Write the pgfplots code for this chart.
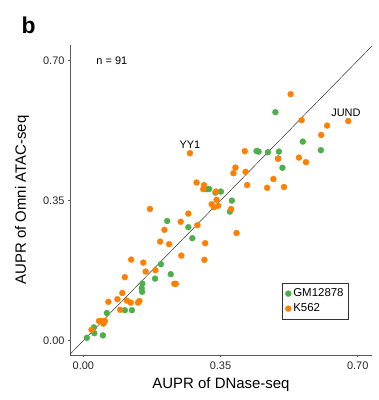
\documentclass[border=0pt]{standalone}
\usepackage{fontspec}
\setmainfont{Liberation Sans}
\usepackage{pgfplots}
\pgfplotsset{compat=1.18}
\definecolor{gmgreen}{RGB}{77,175,74}
\definecolor{korange}{RGB}{255,127,0}
\definecolor{axgray}{RGB}{90,90,90}
\begin{document}
\begin{tikzpicture}[x=1bp,y=1bp]
\path[use as bounding box] (0,0) rectangle (379,400);
\node[anchor=base west,font=\bfseries\fontsize{23}{26}\selectfont] at (18,367) {b};
\begin{axis}[
  at={(70bp,45bp)}, anchor=south west,
  scale only axis, width=302bp, height=310bp,
  xmin=-0.034, xmax=0.7365, ymin=-0.036, ymax=0.739,
  axis lines*=left,
  axis line style={axgray, line width=0.8pt, -},
  xtick={0,0.35,0.7}, ytick={0,0.35,0.7},
  xticklabels={0.00,0.35,0.70}, yticklabels={0.00,0.35,0.70},
  tick align=outside, major tick length=2bp,
  tick style={axgray, line width=0.6pt},
  /pgf/number format/assume math mode=true,
  tick label style={font=\fontsize{11}{13}\selectfont, text=black!85},
  xticklabel style={yshift=-1bp},
  xlabel={AUPR of DNase-seq}, ylabel={AUPR of Omni ATAC-seq},
  label style={font=\fontsize{15}{18}\selectfont},
  xlabel style={at={(axis description cs:0.5,-0.097)}, anchor=center},
  ylabel style={at={(axis description cs:-0.159,0.5)}, anchor=center},
  clip=true,
  legend style={at={(axis description cs:0.702,0.232)}, anchor=north west,
    draw=black!80, line width=0.6pt, font=\fontsize{11.5}{13}\selectfont,
    inner xsep=3bp, inner ysep=3.5bp, row sep=1.5bp,
    nodes={inner xsep=2bp}},
  legend cell align=left,
]
\addplot[black!80, line width=0.5pt, forget plot] coordinates {(-0.05,-0.05) (0.76,0.76)};
\addplot[only marks, mark=*, mark size=3bp, color=gmgreen, mark options={solid, line width=0.3pt}] coordinates {
(0.490,0.571) (0.560,0.4975) (0.606,0.476) (0.442,0.474) (0.447,0.4725)
(0.471,0.471) (0.499,0.4725) (0.497,0.455) (0.508,0.432) (0.315,0.3785)
(0.321,0.379) (0.337,0.370) (0.351,0.3725) (0.379,0.350) (0.374,0.3225)
(0.214,0.299) (0.268,0.2835) (0.278,0.256) (0.198,0.191) (0.223,0.166)
(0.183,0.155) (0.1505,0.1425) (0.149,0.131) (0.150,0.122) (0.106,0.076)
(0.124,0.076) (0.060,0.069) (0.027,0.033) (0.028,0.0185) (0.050,0.013)
(0.009,0.007)
};
\addlegendentry{GM12878}
\addplot[only marks, mark=*, mark size=3bp, color=korange, mark options={solid, line width=0.3pt}] coordinates {
(0.272,0.4685) (0.289,0.395) (0.308,0.3885) (0.306,0.3785) (0.3385,0.3725)
(0.340,0.352) (0.3275,0.341) (0.344,0.337) (0.333,0.3335) (0.170,0.329)
(0.268,0.3175) (0.2485,0.297) (0.207,0.277) (0.291,0.2885) (0.196,0.2475)
(0.219,0.241) (0.311,0.2435) (0.529,0.616) (0.676,0.549) (0.557,0.551)
(0.622,0.5375) (0.607,0.514) (0.412,0.4735) (0.497,0.455) (0.550,0.4575)
(0.568,0.446) (0.388,0.4325) (0.383,0.4185) (0.414,0.422) (0.485,0.404)
(0.418,0.389) (0.469,0.382) (0.512,0.384) (0.377,0.329) (0.391,0.269)
(0.250,0.2125) (0.309,0.202) (0.122,0.2025) (0.153,0.195) (0.184,0.176)
(0.159,0.1725) (0.106,0.1585) (0.232,0.142) (0.236,0.142) (0.0995,0.119)
(0.087,0.1035) (0.064,0.097) (0.111,0.100) (0.121,0.095) (0.1395,0.095)
(0.143,0.099) (0.094,0.077) (0.040,0.049) (0.047,0.049) (0.055,0.049)
(0.051,0.0425) (0.021,0.027)
};
\addlegendentry{K562}
\node[font=\fontsize{11}{13}\selectfont, anchor=west] at (axis description cs:0.076,0.948) {n = 91};
\node[font=\fontsize{11}{13}\selectfont] at (axis cs:0.272,0.489) {YY1};
\node[font=\fontsize{11}{13}\selectfont] at (axis cs:0.670,0.569) {JUND};
\end{axis}
\end{tikzpicture}
\end{document}
